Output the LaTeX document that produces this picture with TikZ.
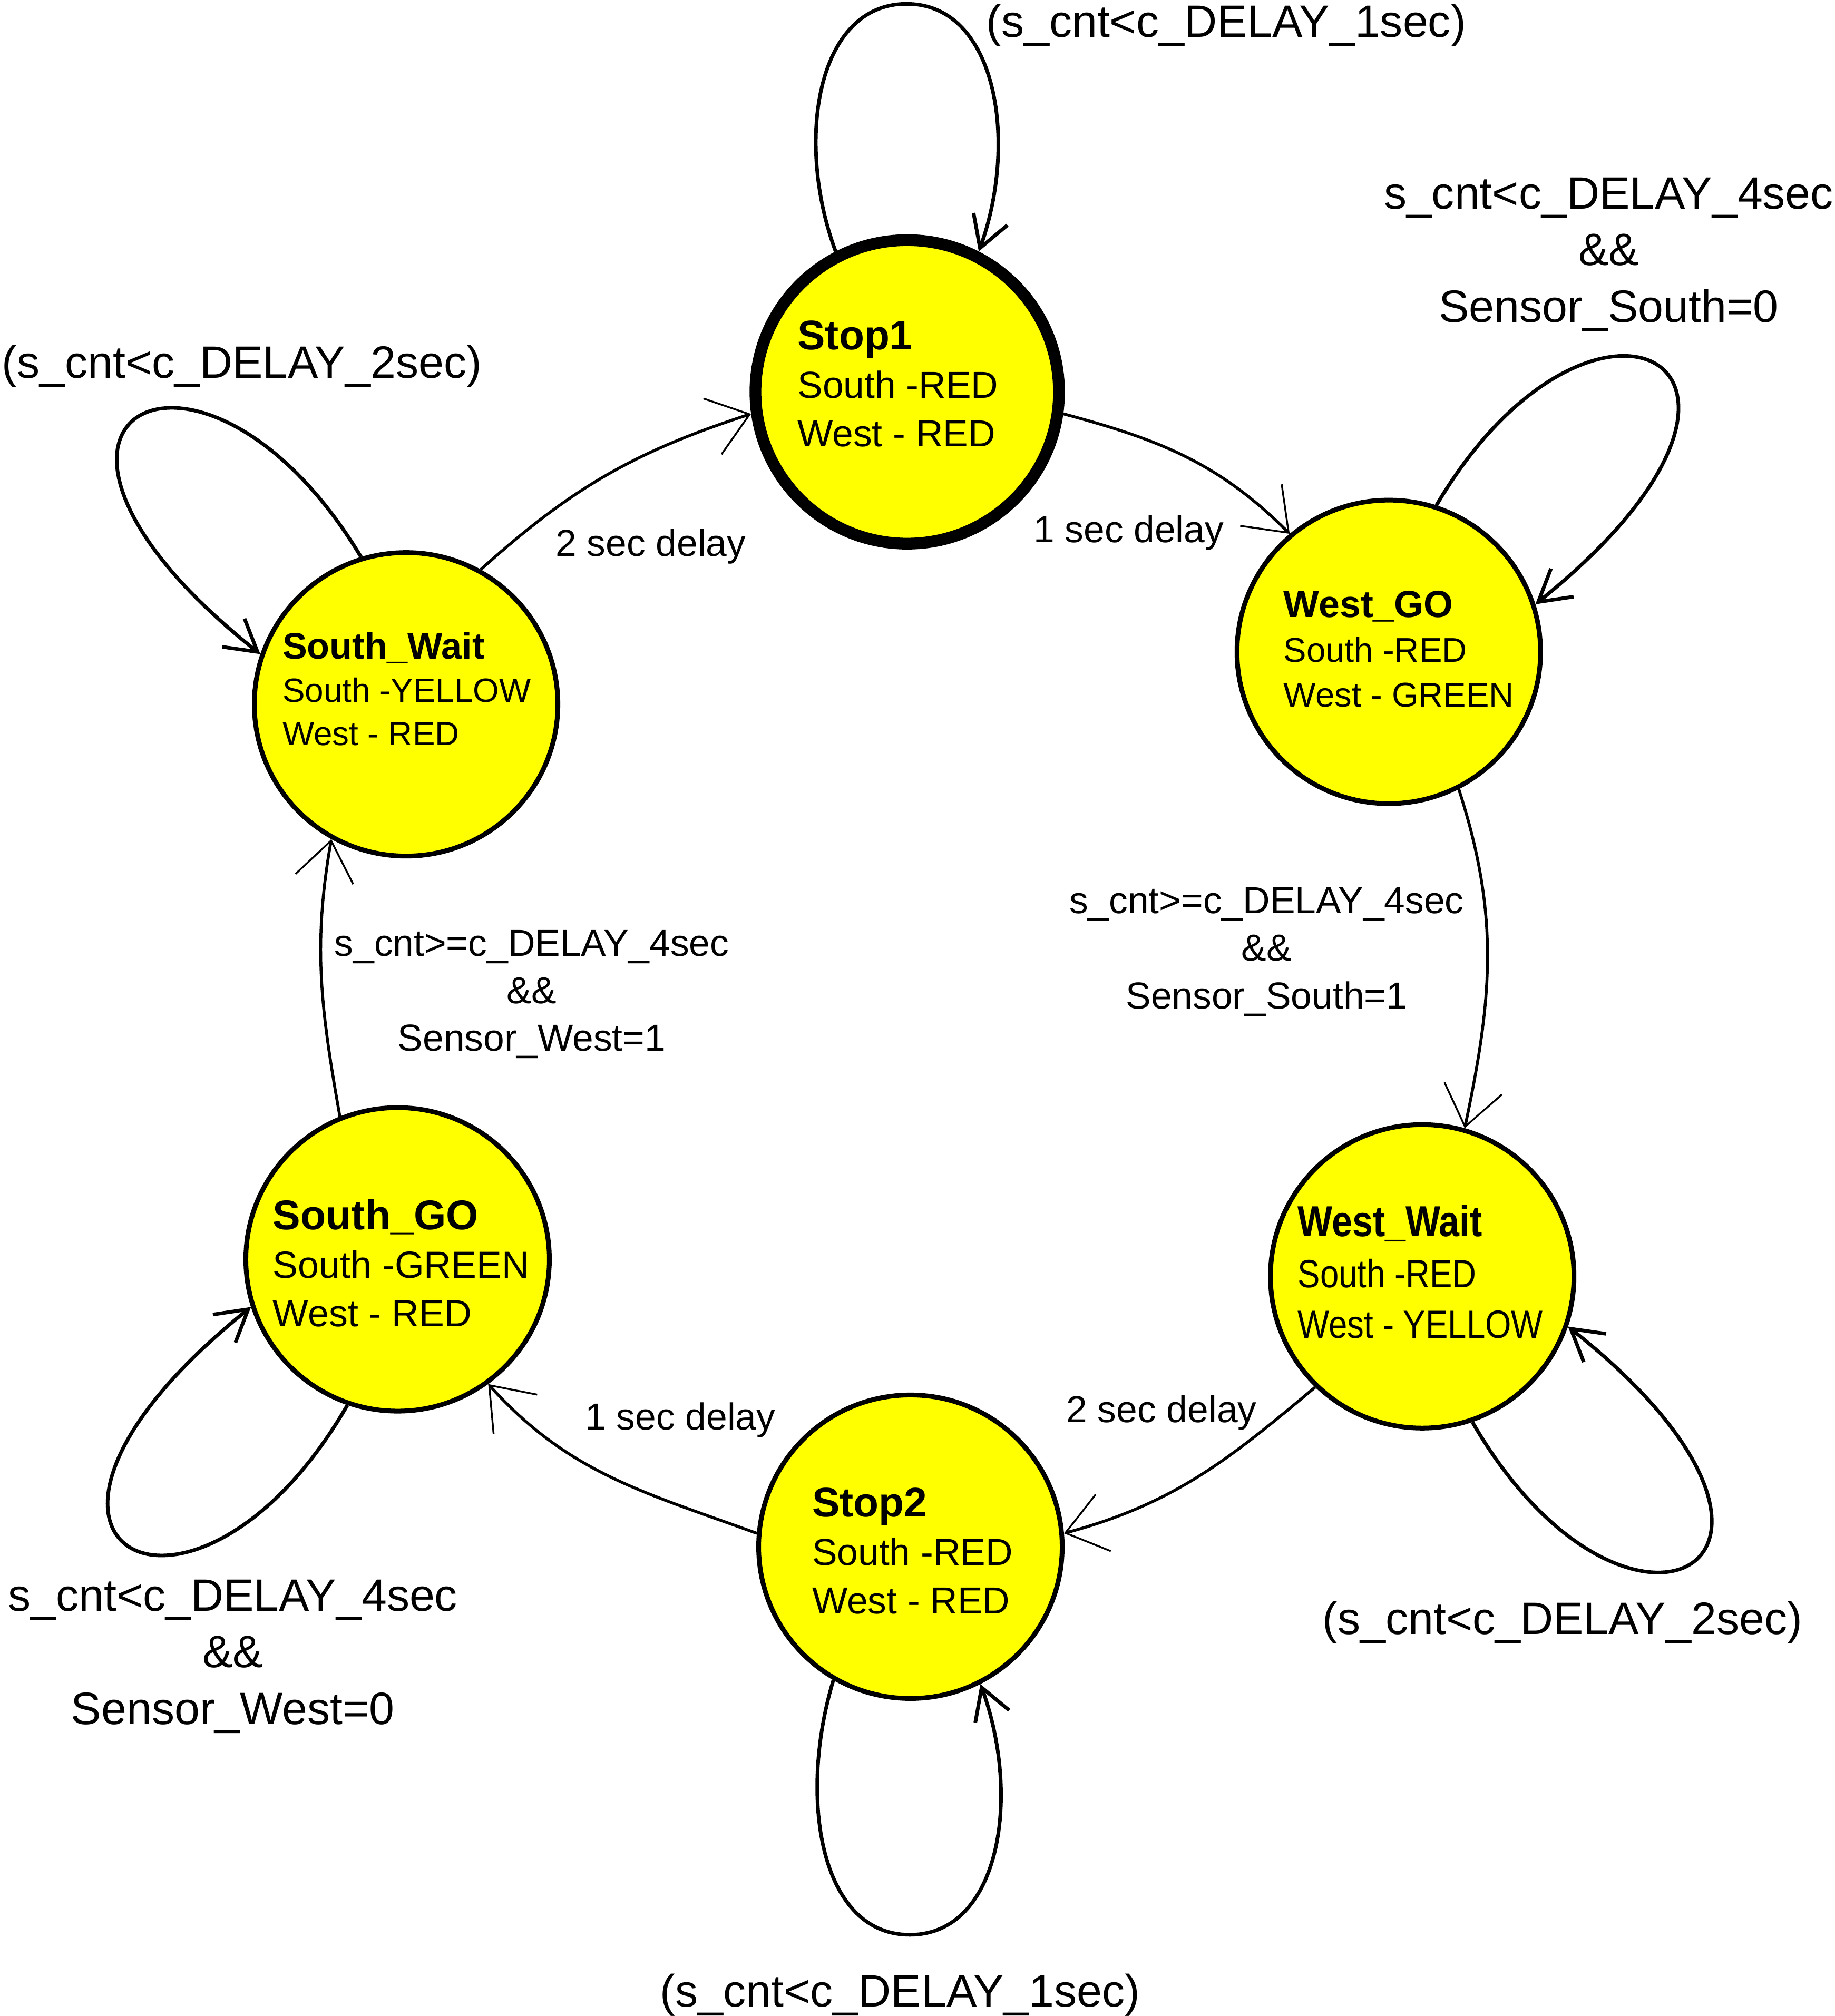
\documentclass[tikz,border=0pt]{standalone}
\usepackage{fontspec}
\usepackage{graphicx}
\setmainfont{Liberation Sans}
\usetikzlibrary{arrows.meta,calc}
\definecolor{stfill}{RGB}{255,255,0}

\newcommand{\stlines}[6]{\scalebox{#3}[1]{\fontsize{#1pt}{#2pt}\selectfont\begin{tabular}[t]{@{}l@{}}{\fontsize{\dimexpr #1pt*11/10\relax}{#2pt}\selectfont\textbf{#4}}\\#5\\#6\end{tabular}}}
\newcommand{\clines}[5]{\fontsize{#1pt}{#2pt}\selectfont\begin{tabular}[t]{@{}c@{}}#3\\#4\\#5\end{tabular}}

\begin{document}
\begin{tikzpicture}[x=0.025cm, y=-0.025cm,
  state/.style={circle, draw=black, fill=stfill, line width=2.63pt, minimum size=5.9cm, inner sep=0pt},
  startstate/.style={state, line width=6.5pt},
  stext/.style={anchor=base west, inner sep=0pt},
  lab/.style={inner sep=0pt, font=\fontsize{20.8pt}{26.3pt}\selectfont},
  biglab/.style={inner sep=0pt, font=\fontsize{25.1pt}{31.3pt}\selectfont},
  trans/.style={line width=1.6pt, -{Straight Barb[length=0.76cm, width=1.14cm, line width=1pt]}},
  selfloop/.style={line width=2pt, -{Straight Barb[length=0.6cm, width=0.7cm, line width=2pt]}}
]
\fill[white] (0,0) rectangle (1427,1568);
\useasboundingbox (0,0) rectangle (1427,1568);

% states
\node[startstate] (s1) at (705.5,304.8) {};
\node[state] (wg) at (1080,507) {};
\node[state] (ww) at (1106,992.7) {};
\node[state] (s2) at (708,1203) {};
\node[state] (sg) at (309.2,979.5) {};
\node[state] (sw) at (315.8,547.8) {};

% state texts
\node[stext] (t1) at (620,272) {\stlines{20.8}{26.8}{1}{Stop1}{South -RED}{West - RED}};
\node[stext] (t2) at (998,480.3) {\stlines{19}{24.7}{1}{West\_GO}{South -RED}{West - GREEN}};
\node[stext] (t3) at (1009,961.7) {\stlines{21.8}{28.1}{0.85}{West\_Wait}{South -RED}{West - YELLOW}};
\node[stext] (t4) at (631.3,1179.6) {\stlines{20.8}{26.8}{1}{Stop2}{South -RED}{West - RED}};
\node[stext] (t5) at (212,956.4) {\stlines{20.9}{26.8}{1}{South\_GO}{South -GREEN}{West - RED}};
\node[stext] (t6) at (219.4,512.6) {\stlines{18.6}{23.8}{1}{South\_Wait}{South -YELLOW}{West - RED}};

% transitions
\draw[trans] (s1.-8.5) to[out=-15, in=135] (wg.130);
\draw[trans] (wg.-63.5) to[out=-72, in=78] (ww.74);
\draw[trans] (ww.226) to[out=220, in=15] (s2.5);
\draw[trans] (s2.175.6) to[out=160, in=-48] (sg.-54.8);
\draw[trans] (sg.112.6) to[out=100, in=-100] (sw.241.8);
\draw[trans] (sw.61.4) to[out=42, in=-162] (s1.188);

% self loops
\draw[selfloop] (s1.117) .. controls (618,110) and (635,3) .. (705,3)
  .. controls (775,3) and (792,110) .. (s1.63);
\draw[selfloop] (s2.240.7) .. controls (620.5,1397.8) and (637.5,1504.8) .. (707.5,1504.8)
  .. controls (777.5,1504.8) and (794.5,1397.8) .. (s2.-63);
\draw[selfloop] (wg.72) .. controls (1239,186) and (1426,283.5) .. (wg.18.4);
\draw[selfloop] (ww.-71) .. controls (1265,1314) and (1452,1216.2) .. (ww.-19);
\draw[selfloop] (sg.251.7) .. controls (150,1301) and (-37,1203) .. (sg.198);
\draw[selfloop] (sw.107.5) .. controls (156.5,226.5) and (-30,324.3) .. (sw.161);

% transition labels
\node[lab, anchor=base west] (l1) at (803.5,421.8) {1 sec delay};
\node[lab, anchor=base west] (l2) at (431.8,432.7) {2 sec delay};
\node[lab, anchor=base west] (l3) at (829,1106.4) {2 sec delay};
\node[lab, anchor=base west] (l4) at (454.8,1111.9) {1 sec delay};
\node[inner sep=0pt, anchor=base] (l5) at (985,710.5) {\clines{20.8}{26.3}{s\_cnt>=c\_DELAY\_4sec}{\&\&}{Sensor\_South=1}};
\node[inner sep=0pt, anchor=base] (l6) at (413.5,743.5) {\clines{20.8}{26.3}{s\_cnt>=c\_DELAY\_4sec}{\&\&}{Sensor\_West=1}};

% loop labels
\node[biglab, anchor=base] (l7) at (953.5,29) {(s\_cnt<c\_DELAY\_1sec)};
\node[inner sep=0pt, anchor=base] (l8) at (1251,162.5) {\clines{25.1}{31.3}{s\_cnt<c\_DELAY\_4sec}{\&\&}{Sensor\_South=0}};
\node[biglab, anchor=base] (l9) at (188,294) {(s\_cnt<c\_DELAY\_2sec)};
\node[biglab, anchor=base] (l10) at (1215,1271) {(s\_cnt<c\_DELAY\_2sec)};
\node[inner sep=0pt, anchor=base] (l11) at (181,1253) {\clines{25.1}{31.3}{s\_cnt<c\_DELAY\_4sec}{\&\&}{Sensor\_West=0}};
\node[biglab, anchor=base] (l12) at (700,1561) {(s\_cnt<c\_DELAY\_1sec)};
\end{tikzpicture}
\end{document}
